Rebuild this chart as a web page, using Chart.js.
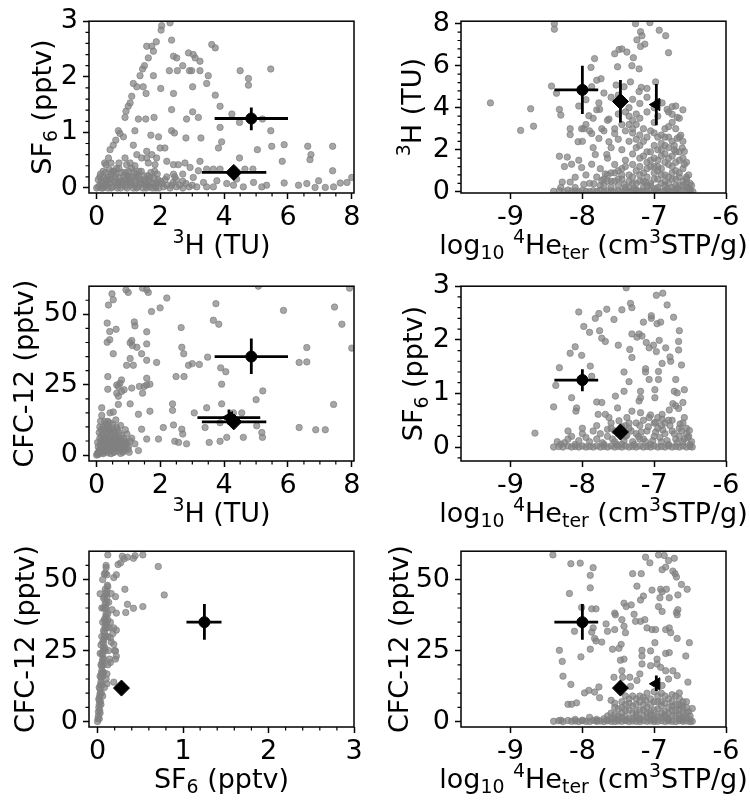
<!DOCTYPE html>
<html>
<head>
<meta charset="utf-8">
<script src="https://cdn.jsdelivr.net/npm/chart.js@4.4.1/dist/chart.umd.min.js"></script>
<style>
body{margin:0;background:#fff;width:750px;height:800px;overflow:hidden;}
canvas{position:absolute;}
</style>
</head>
<body>
<canvas id="p1" width="375" height="265" style="left:0px;top:0px"></canvas>
<canvas id="p2" width="375" height="265" style="left:375px;top:0px"></canvas>
<canvas id="p3" width="375" height="265" style="left:0px;top:265px"></canvas>
<canvas id="p4" width="375" height="265" style="left:375px;top:265px"></canvas>
<canvas id="p5" width="375" height="270" style="left:0px;top:530px"></canvas>
<canvas id="p6" width="375" height="270" style="left:375px;top:530px"></canvas>
<script>
// three dated samples (circle, diamond, left triangle), null = not measured / no error
const sampH3 = [4.85, 4.3, 4.15];
const sampH3Lo = [3.7, 3.3, 3.16];
const sampH3Hi = [6.0, 5.32, 5.13];
const sampHe = [-8.0, -7.47, -6.97];
const sampHeLo = [-8.39, null, null];
const sampHeHi = [-7.78, null, null];
const sampSF6 = [1.25, 0.28, null];
const sampSF6Lo = [1.04, null, null];
const sampSF6Hi = [1.45, null, null];
const sampCFC = [35, 11.8, 13.3];
const sampCFCLo = [28.8, null, 10.8];
const sampCFCHi = [41.4, null, 16.2];

// background data
const ptsH3SF6 = [[2.04,2.92],[2.02,2.84],[2.3,2.97],[1.87,2.63],[1.73,2.55],[1.57,2.55],[1.78,2.46],[1.62,2.34],[1.5,2.2],[1.44,2.14],[1.36,2.02],[1.78,2.02],[1.15,1.88],[1.26,1.82],[1.46,1.82],[1.55,1.7],[1.1,1.65],[1.05,1.53],[0.99,1.47],[0.92,1.38],[0.89,1.27],[1.31,1.24],[1.54,1.24],[1.8,1.27],[0.68,1.03],[0.73,0.98],[0.84,0.92],[1.2,1.03],[0.6,0.86],[0.52,0.77],[0.42,0.69],[0.37,0.54],[0.29,0.42],[1.7,0.95],[1.94,0.92],[1.99,0.72],[1.57,0.66],[1.41,0.54],[1.57,0.54],[1.73,0.6],[1.88,0.54],[2.14,0.72],[1.15,0.77],[1.26,0.6],[0.89,0.54],[0.94,0.42],[1.62,0.45],[1.83,0.42],[2.2,0.48],
[2.01,1.79],[2.28,2.11],[2.53,2.11],[2.41,2.37],[2.51,2.34],[2.35,2.66],[2.7,2.2],[2.88,2.43],[3.03,2.4],[3.09,2.34],[3.24,2.28],[2.91,2.11],[2.98,2.11],[3.24,2.11],[3.5,2.02],[3.45,1.88],[3.01,1.82],[2.35,1.41],[2.82,1.24],[3.19,1.27],[3.01,1.37],[2.35,1.03],[2.44,0.99],[2.8,0.9],[3.27,0.9],[2.41,1.7],
[3.61,2.58],[3.72,2.52],[3.72,1.67],[3.87,1.47],[3.87,1.09],[3.82,0.72],[3.92,0.83],[4.24,1.33],[4.48,1.18],[4.48,0.54],[4.5,2.11],[4.76,1.97],[4.76,1.85],[5.2,1.24],[5.46,1.03],[5.46,2.14],[5.04,0.69],[5.49,0.75],[5.88,0.78],[5.82,0.48],[5.88,0.09],[6.62,0.75],[6.72,0.6],[6.69,0.51],[7.4,0.75],[7.4,0.31],[6.96,0.13],[7.85,0.1],[8.0,0.19],[6.33,0.05],[6.59,0.08],[6.85,0.01],[7.17,0.01],[7.43,0.02],[7.64,0.09],
[3.24,0.48],[3.19,0.31],[3.45,0.34],[3.66,0.34],[3.87,0.34],[4.65,0.34],[4.9,0.34],[4.39,0.16],[4.92,0.1],[2.41,0.42],[2.56,0.42],[2.77,0.45],[2.93,0.37],[2.7,0.25],[2.41,0.25],[3.03,0.19],[3.35,0.1],[3.77,0.13],[4.08,0.08],[4.29,0.05],[4.6,0.02],[5.18,0.02],[5.33,0.05],[3.66,0.02],[3.45,0.02],[3.14,0.02],
[0.0,0.0],[0.05,0.02],[0.1,0.05],[0.15,0.0],[0.2,0.1],[0.25,0.03],[0.3,0.15],[0.35,0.0],[0.4,0.08],[0.45,0.2],[0.5,0.02],[0.55,0.12],[0.6,0.25],[0.65,0.05],[0.7,0.18],[0.75,0.0],[0.8,0.1],[0.85,0.22],[0.9,0.03],[0.95,0.15],[1.0,0.3],[1.05,0.05],[1.1,0.2],[1.15,0.0],[1.2,0.12],[1.25,0.25],[1.3,0.02],[1.35,0.1],[1.4,0.3],[1.45,0.0],[1.5,0.15],[1.55,0.05],[1.6,0.22],[1.65,0.02],[1.7,0.1],[1.75,0.0],[1.8,0.18],[1.85,0.03],[1.9,0.08],[1.95,0.0],[2.0,0.12],[2.1,0.02],[2.2,0.05],[2.3,0.0],[2.4,0.1],[2.5,0.02],[2.6,0.05],[2.7,0.0],[2.8,0.08],[2.9,0.02],[3.0,0.05],
[0.1,0.2],[0.2,0.3],[0.3,0.05],[0.5,0.3],[0.7,0.35],[0.9,0.28],[1.1,0.35],[0.4,0.33],[0.6,0.1],[1.3,0.2],[1.6,0.05],[1.9,0.25],[0.2,0.0],[0.45,0.0],[0.65,0.0],[0.95,0.0],[1.25,0.0],[1.55,0.0],[1.85,0.0],[0.15,0.12],[0.35,0.2],[0.55,0.3],[0.75,0.12],[1.0,0.1],[1.2,0.05],[1.4,0.08],[1.7,0.28],[2.2,0.2],[2.5,0.15],[2.7,0.12],
[0.05,0.15],[0.12,0.25],[0.22,0.18],[0.28,0.28],[0.32,0.1],[0.42,0.15],[0.48,0.25],[0.58,0.2],[0.62,0.35],[0.68,0.1],[0.78,0.28],[0.82,0.05],[0.88,0.15],[0.98,0.22],[1.02,0.18],[1.08,0.1],[1.18,0.28],[1.22,0.18],[1.32,0.3],[1.38,0.15],[1.48,0.22],[1.52,0.1],[1.62,0.15],[1.68,0.2],[1.78,0.08],[1.82,0.3],[1.92,0.15],[2.05,0.08],[2.15,0.15],[2.35,0.05],[2.45,0.2],[0.25,0.45],[0.45,0.45],[0.7,0.45],[1.05,0.45],[1.2,0.4]];

const ptsHeH3 = [[-9.28,4.23],[-8.86,2.92],[-8.72,3.95],[-8.68,3.12],[-8.39,8.0],[-8.39,7.74],[-8.43,5.03],[-8.36,4.69],[-8.32,3.92],[-8.3,3.65],[-8.32,1.69],[-8.21,1.65],[-8.17,3.0],[-8.17,2.72],[-8.15,1.31],[-8.1,0.69],[-8.28,0.46],[-8.17,0.46],[-8.06,2.38],[-8.05,4.08],[-8.01,3.0],[-7.95,4.38],[-7.91,3.62],[-7.87,5.0],[-7.88,5.92],[-7.83,6.34],[-7.8,5.31],[-7.77,4.23],[-7.74,5.38],[-7.76,3.92],[-7.73,3.0],[-7.63,3.46],[-7.77,2.54],[-7.87,2.77],[-7.98,3.0],[-7.82,1.77],[-7.87,1.31],[-8.01,1.15],[-7.68,0.85],[-7.73,0.54],[-7.98,0.35],[-7.84,0.38],[-7.66,1.77],[-7.63,2.38],[-7.55,2.77],[-7.55,6.57],[-7.49,6.77],[-7.45,6.8],[-7.38,6.65],[-7.51,5.95],[-7.53,5.08],[-7.42,5.0],[-7.33,5.23],[-7.29,6.38],[-7.21,5.85],[-7.31,6.0],[-7.21,4.77],[-7.18,4.97],[-7.26,8.0],[-7.19,7.62],[-7.17,7.43],[-7.24,7.23],[-7.19,6.92],[-7.13,7.03],[-7.06,8.05],[-6.93,7.69],[-6.84,7.43],[-6.8,6.62],[-7.1,4.92],[-6.98,5.23],[-6.89,4.23],[-6.82,3.92],[-6.7,4.08],[-6.75,3.69],[-6.68,3.54],[-6.63,2.69],[-6.68,2.54],[-6.61,2.08],[-6.72,2.0],[-6.58,1.92],
[-8.4,0.02],[-8.32,0.05],[-8.25,0],[-8.2,0.08],[-8.15,0.02],[-8.1,0.04],[-8.05,0],[-8.0,0.06],[-7.95,0.02],[-7.9,0],[-7.85,0.05],[-7.8,0.02],[-7.75,0.07],[-7.7,0],[-7.65,0.03],[-7.6,0.05],[-7.55,0],[-7.5,0.04],[-7.45,0.02],[-7.4,0.06],[-7.35,0],[-7.3,0.03],[-7.25,0.05],[-7.2,0.01],[-7.15,0.04],[-7.1,0],[-7.05,0.06],[-7.0,0.02],[-6.95,0.03],[-6.9,0],[-6.85,0.05],[-6.8,0.02],[-6.75,0.04],[-6.7,0],[-6.65,0.03],[-6.6,0.05],[-6.55,0.01],[-6.5,0.03],[-6.46,0],
[-7.5,0.3],[-7.45,0.6],[-7.4,0.2],[-7.35,0.8],[-7.3,0.4],[-7.25,1.0],[-7.2,0.5],[-7.15,0.9],[-7.1,0.3],[-7.05,1.2],[-7.0,0.6],[-6.95,1.5],[-6.9,0.4],[-6.85,1.8],[-6.8,0.7],[-6.75,1.2],[-6.7,0.3],[-6.65,0.9],[-6.6,0.5],[-6.55,0.2],[-6.5,0.1],
[-7.4,1.5],[-7.3,1.3],[-7.2,1.6],[-7.1,1.9],[-7.0,2.2],[-6.95,2.0],[-6.9,2.3],[-6.85,1.4],[-6.8,2.1],[-6.75,1.7],[-6.7,1.0],[-6.65,1.5],[-6.6,1.1],[-6.55,0.7],
[-7.45,2.0],[-7.35,2.4],[-7.3,2.8],[-7.25,3.2],[-7.2,3.5],[-7.15,3.0],[-7.1,2.6],[-7.05,2.9],[-7.0,3.3],[-6.95,3.6],[-6.9,2.7],[-7.25,3.7],[-7.3,3.4],[-7.35,3.6],[-7.2,2.2],[-7.15,1.7],[-7.05,1.5],[-6.95,1.0],[-6.9,0.8],[-6.85,0.5],[-6.8,1.3],[-6.75,0.6],[-6.7,1.9],[-6.65,2.6],[-6.6,2.4],[-6.55,1.4],
[-7.55,1.3],[-7.6,0.9],[-7.65,1.6],[-7.5,2.5],[-7.55,3.0],[-7.6,2.1],[-7.65,3.4],[-7.7,2.9],[-7.5,3.7],[-7.45,3.2],[-7.4,2.9],[-7.4,3.8],[-7.1,3.8],[-7.0,4.0],[-6.95,4.3],[-6.85,3.0],[-6.8,2.6],[-6.75,3.3],[-6.7,3.0],[-6.65,3.5],[-6.6,3.9],
[-7.8,0.7],[-7.75,1.1],[-7.9,0.4],[-7.85,2.1],[-7.7,0.3],[-7.65,0.5],[-7.6,0.2],[-7.55,0.5],[-7.5,1.0],[-7.45,1.1],[-7.35,0.2],[-7.25,0.1],[-7.15,0.2],[-7.05,0.4],[-6.95,0.2],[-6.85,0.3],[-6.75,0.2],[-6.65,0.3],[-6.55,0.4],
[-8.25,1.2],[-8.05,1.5],[-8.3,0.2],[-8.1,0.2],[-7.95,0.8],[-7.3,4.4],[-7.35,4.0],[-7.2,4.2],[-7.1,4.5],[-6.8,3.8],[-6.75,4.05],[-7.6,4.5],[-7.7,4.7],[-7.5,4.6],[-7.8,3.9],[-7.85,3.5],[-7.9,2.9],[-8.0,2.4],[-7.95,3.2],
[-7.35,0.5],[-7.3,0.7],[-7.25,0.4],[-7.2,0.8],[-7.15,0.5],[-7.1,0.7],[-7.05,0.3],[-7.0,0.9],[-6.95,0.6],[-6.9,1.1],[-6.85,0.8],[-6.8,0.4],[-6.75,0.9],[-6.7,0.6],[-6.65,0.7],[-6.6,0.3],[-6.55,0.6],[-6.5,0.4],[-7.2,1.2],[-7.1,1.4],[-7.0,1.6],[-6.95,1.2],[-6.9,1.7],[-6.85,2.2],[-6.8,1.6],[-6.75,2.4],[-6.7,1.4],[-6.65,1.9],[-6.6,1.6],[-7.0,1.2],[-7.05,1.9],[-7.1,1.1],[-7.3,1.8],[-7.25,2.1],[-7.4,1.2],[-7.45,0.8],[-7.5,0.6],[-7.55,0.9],[-7.6,0.5],[-7.65,0.8],[-7.7,0.6],[-7.75,0.3],[-6.9,2.0],[-6.95,2.6],[-7.0,2.8],[-7.15,2.4],[-7.2,2.7],[-7.25,2.5],[-7.3,3.0],[-7.35,3.2],[-6.85,2.6],[-6.8,3.1],[-6.72,2.2],[-6.58,1.3],[-6.52,0.8],[-6.48,0.3],[-7.42,0.35],[-7.28,0.15],[-7.12,0.45],[-6.98,0.15],[-6.82,0.15],[-6.68,0.15],[-6.52,0.15]];

const ptsH3CFC = [[0.92,58.7],[0.99,57.8],[1.44,59.3],[1.57,58.7],[1.62,57.8],[0.48,57.3],[0.52,55.2],[0.37,53.3],[2.2,55.8],[1.72,51],[1.99,52.3],[3.74,53.8],[3.66,47.9],[3.83,46.5],[0.33,46.9],[0.41,43.9],[0.61,44.7],[1.18,47.3],[1.2,45.9],[1.57,43.8],[2.65,45.3],[1.05,39.9],[1.1,40.7],[1.12,38.9],[0.33,40.1],[0.41,41],[1.26,38.3],[1.57,39.5],[1.88,32.9],[0.94,31.9],[1.05,34.3],[1.15,31.9],[1.41,36],[1.57,33.7],[0.52,36],[0.35,27.9],[0.35,23.4],[0.63,24.9],[0.68,24.4],[0.73,25.5],[0.78,26.7],[0.63,22],[0.68,20.9],[0.78,22.6],[0.86,23.2],[1.1,23.8],[1.34,24.4],[1.44,22],[1.57,27.3],[1.49,24.4],[1.57,24.9],[1.67,25.2],[1.05,18.2],[0.68,18],[0.42,15],[0.16,16.8],[0.52,15.3],[0.16,14.1],[1.31,14.5],[1.67,15.6],[1.41,9.2],[1.57,5.7],[1.31,1.6],[2.09,9.8],[1.94,5.7],
[2.49,27.9],[2.74,27.9],[2.67,38.3],[2.73,36],[3.0,32.5],[3.22,32.2],[2.88,31.9],[2.38,18.2],[2.38,15.9],[3.06,15],[3.45,16.8],[3.48,34.8],[2.41,10.7],[2.67,9.2],[2.7,7.5],[2.45,4.9],[2.57,4.5],[2.82,4],[3.53,4.5],[3.87,4.9],[3.92,18.2],[3.92,25.2],[3.89,31],[4.05,29.6],[3.4,9.8],[3.87,11.5],[4.08,6.3],[4.29,15],[4.6,6.3],[4.55,15],[5.02,10.4],[5.0,19.7],[5.21,22.8],[5.18,8],[5.2,6.3],[5.07,60],[5.86,51.4],[6.35,32.9],[6.59,33.1],[6.59,38.2],[6.35,9.8],[6.87,9],[7.17,9],[7.43,18],[7.46,52.6],[7.69,46.5],[7.93,59.3],[8.0,38],
[0.0,0.0],[0.02,0.5],[0.05,1],[0.05,0.2],[0.08,1.5],[0.1,2],[0.1,0.8],[0.12,3],[0.15,1.2],[0.15,4],[0.18,2.5],[0.2,5],[0.2,0.5],[0.22,3.5],[0.25,6],[0.25,1.8],[0.28,4.5],[0.3,7],[0.3,2.5],[0.32,8],[0.35,3],[0.35,5.5],[0.38,9],[0.4,4],[0.4,1.5],[0.42,6.5],[0.45,3.5],[0.45,8],[0.48,2],[0.5,5],[0.5,9.5],[0.52,3],[0.55,6],[0.58,4],[0.6,2.5],[0.6,7],[0.62,5],[0.65,3.5],[0.68,1.5],[0.7,4.5],[0.72,6],[0.75,3],[0.78,2],[0.8,5],[0.85,3.5],[0.9,2.5],[0.95,4],[1.0,3],[1.05,5],[0.2,10],[0.25,9],[0.15,7],[0.1,6],[0.35,12],[0.3,11],[0.5,11],[0.65,9],[0.55,1],[0.45,0.5],[0.35,0.8],[0.75,0.6],[0.85,1.5],[0.05,3],[0.03,4.5],[0.08,8],[0.1,10],[0.12,12],
[0.15,9],[0.2,7.5],[0.28,6],[0.33,10],[0.4,9],[0.47,7],[0.55,8.5],[0.62,10],[0.7,8],[0.78,7],[0.85,6],[0.9,5],[0.95,7.5],[0.25,12],[0.4,11.5],[0.6,12.5],[0.75,10.5],[0.9,9],[1.1,6],[1.2,4],[0.12,5],[0.18,3],[0.22,1],[0.3,1.5],[0.38,2.5],[0.42,5],[0.48,4.5],[0.52,1],[0.58,6.5],[0.65,5.5],[0.7,2.5],[0.8,3.5],[0.82,1],[0.9,4],[0.98,2],[1.02,1]];

const ptsHeSF6 = [[-8.66,0.26],[-8.4,0.75],[-8.37,1.15],[-8.32,1.48],[-8.15,0.92],[-8.09,0.67],[-8.17,1.75],[-8.1,1.87],[-8.01,1.71],[-8.05,2.52],[-7.98,2.25],[-7.9,2.14],[-7.89,1.51],[-7.87,1.32],[-7.8,0.84],[-7.73,0.83],[-7.82,2.4],[-7.77,2.49],[-7.76,2.17],[-7.73,2.03],[-7.68,1.97],[-7.66,2.57],[-7.56,2.38],[-7.5,1.9],[-7.45,2.56],[-7.39,2.97],[-7.33,2.68],[-7.31,2.6],[-7.42,1.4],[-7.54,0.95],[-7.51,0.73],[-7.42,1.04],[-7.35,1.22],[-7.31,1.67],[-7.34,1.82],[-7.31,2.11],[-7.21,2.11],[-7.17,2.07],[-7.24,2.05],[-7.12,1.4],[-7.12,1.46],[-7.07,1.26],[-7.19,1.04],[-7.19,0.92],[-7.15,2.33],[-7.04,2.45],[-7.04,2.4],[-7.11,1.95],[-7.07,1.85],[-7.01,1.9],[-6.97,1.78],[-6.93,1.99],[-6.96,2.3],[-6.91,2.33],[-6.97,2.83],[-6.88,2.87],[-6.82,2.65],[-6.89,1.56],[-6.94,1.41],[-6.94,1.26],[-6.99,1.07],[-6.99,0.92],[-6.84,1.85],[-6.78,1.68],[-6.77,1.6],[-6.73,2.42],[-6.65,2.17],[-6.66,1.97],[-6.66,1.81],[-6.62,1.53],[-6.7,1.26],[-6.68,1.01],[-6.58,1.07],[-6.6,0.83],[-6.66,0.72],[-6.7,0.77],[-6.74,0.81],[-6.72,1.04],[-6.79,0.69],[-6.89,0.61],[-6.64,0.43],[-6.58,0.55],[-6.53,0.18],[-6.51,0.31],
[-7.78,0.61],[-7.68,0.61],[-7.63,0.55],[-7.49,0.49],[-7.38,0.55],[-7.31,0.67],[-7.21,0.86],[-7.19,0.64],[-7.07,0.55],[-6.98,0.46],[-6.89,0.52],[-8.08,0.73],
[-8.4,0.0],[-8.33,0.01],[-8.27,0.0],[-8.2,0.02],[-8.15,0.0],[-8.1,0.01],[-8.05,0.0],[-8.0,0.02],[-7.95,0.0],[-7.9,0.01],[-7.85,0.0],[-7.8,0.02],[-7.75,0.0],[-7.7,0.01],[-7.65,0.0],[-7.6,0.02],[-7.55,0.0],[-7.5,0.01],[-7.45,0.0],[-7.4,0.02],[-7.35,0.0],[-7.3,0.01],[-7.25,0.0],[-7.2,0.02],[-7.15,0.0],[-7.1,0.01],[-7.05,0.0],[-7.0,0.02],[-6.95,0.0],[-6.9,0.01],[-6.85,0.0],[-6.8,0.02],[-6.75,0.0],[-6.7,0.01],[-6.65,0.0],[-6.6,0.02],[-6.55,0.0],[-6.5,0.01],[-6.47,0.0],
[-8.35,0.1],[-8.2,0.15],[-8.1,0.05],[-8.0,0.25],[-7.9,0.1],[-7.85,0.3],[-7.8,0.15],[-7.7,0.05],[-7.65,0.2],[-7.6,0.35],[-7.55,0.1],[-7.5,0.25],[-7.45,0.05],[-7.4,0.2],[-7.35,0.35],[-7.3,0.1],[-7.25,0.25],[-7.2,0.4],[-7.15,0.15],[-7.1,0.3],[-7.05,0.05],[-7.0,0.2],[-6.95,0.35],[-6.9,0.1],[-6.85,0.25],[-6.8,0.05],[-6.75,0.3],[-6.7,0.15],[-6.65,0.2],[-6.6,0.1],[-6.55,0.25],[-6.5,0.05],[-7.2,0.15],[-7.0,0.45],[-6.9,0.4],[-6.8,0.5],[-7.4,0.4],[-7.6,0.45],[-7.8,0.4],[-8.0,0.35],[-8.2,0.3],[-8.3,0.05],
[-8.25,0.08],[-8.15,0.2],[-8.05,0.12],[-7.95,0.18],[-7.75,0.25],[-7.72,0.08],[-7.58,0.15],[-7.52,0.05],[-7.48,0.3],[-7.42,0.12],[-7.38,0.22],[-7.32,0.3],[-7.28,0.05],[-7.22,0.2],[-7.18,0.28],[-7.12,0.1],[-7.08,0.38],[-7.02,0.12],[-6.98,0.28],[-6.92,0.18],[-6.88,0.32],[-6.82,0.12],[-6.78,0.4],[-6.72,0.25],[-6.68,0.08],[-6.62,0.3],[-6.58,0.15],[-6.52,0.2],[-6.48,0.1],[-7.25,0.45],[-7.15,0.5],[-7.05,0.6],[-6.95,0.55],[-6.85,0.45],[-6.75,0.5],[-6.65,0.35],[-7.35,0.45],[-7.45,0.38],[-7.55,0.3],[-7.65,0.33],[-6.6,0.45],[-6.55,0.35]];

const ptsSF6CFC = [[0.12,58.7],[0.27,55.9],[0.31,57.3],[0.29,58.2],[0.35,57.9],[0.42,57.5],[0.44,58.4],[0.53,58.7],[0.71,54.6],[0.24,55.3],[0.1,54.2],[0.09,52.3],[0.11,51.7],[0.22,51.7],[0.19,50.7],[0.32,46.6],[0.12,47.5],[0.09,46.6],[0.16,45.1],[0.21,44],[0.78,44.6],[0.35,41.3],[0.42,39.9],[0.53,40.5],[0.33,38.4],[0.22,38.2],[0.17,39.4],[0.09,41.7],[0.07,43.4],[0.22,32.2],[0.19,33],[0.12,35.9],[0.15,29.5],[0.19,27.2],[0.21,24.9],[0.21,22],[0.15,20.8],[0.11,13.3],[0.19,13.9],[0.11,16.8],[0.07,17.4],
[0,0],[0.005,1],[0.01,2],[0.01,3.5],[0.015,5],[0.02,6],[0.02,7.5],[0.025,9],[0.03,10],[0.03,11.5],[0.035,13],[0.04,14],[0.04,15.5],[0.045,17],[0.05,18],[0.05,19.5],[0.055,21],[0.06,22],[0.06,23.5],[0.065,25],[0.07,26],[0.07,27.5],[0.075,29],[0.08,30],[0.08,31.5],[0.085,33],[0.09,34],[0.09,35.5],[0.095,37],[0.1,38],[0.1,40],[0.105,42],[0.11,44],[0.11,46],[0.115,48],[0.02,12],[0.03,16],[0.04,20],[0.05,24],[0.06,28],[0.07,32],[0.08,36],[0.09,40],[0.1,45],[0.12,30],[0.13,25],[0.14,22],[0.15,35],[0.16,28],[0.12,20],[0.1,15],[0.08,12],[0.06,9],[0.04,6],[0.03,3],[0.02,1],[0.05,30],[0.04,27],[0.03,24],[0.06,35],[0.07,40],[0.08,44],[0.12,38],[0.14,33],[0.18,31],[0.2,25],[0.22,23],[0.06,16],[0.07,20],[0.09,25],[0.11,33],[0.13,42],[0.015,8],[0.025,4],[0.035,7],[0.045,10],[0.055,13],[0.065,17],[0.075,22],[0.085,26],[0.095,30],[0.105,35],[0.06,50],[0.08,52],[0.1,55],[0.03,45],[0.05,40]];

const ptsHeCFC = [[-8.41,58.7],[-8.16,55.6],[-8.03,55.8],[-7.85,54.2],[-7.89,51.5],[-7.89,47.1],[-8.18,45.1],[-8.01,40.2],[-7.87,39.7],[-7.81,39.7],[-7.85,33],[-7.87,31.5],[-7.83,29.3],[-7.81,28.4],[-7.73,28],[-7.89,25.5],[-8.02,22.8],[-8.11,31.8],[-8.32,25.1],[-8.28,21.2],[-8.27,16],[-8.16,13.1],[-8.2,6.1],[-8.15,6.1],[-8.08,6.6],[-7.97,10.1],[-7.91,11],[-7.83,10.4],[-7.77,12.2],[-7.76,8.4],[-7.67,34.4],[-7.55,38.2],[-7.54,37.6],[-7.55,32.4],[-7.45,35.9],[-7.42,33.6],[-7.4,31.3],[-7.46,27.2],[-7.42,22],[-7.47,21.6],[-7.58,25.5],[-7.49,25.8],[-7.39,40.5],[-7.42,41.7],[-7.32,41.1],[-7.28,37.8],[-7.26,35.3],[-7.19,35.3],[-7.13,35.9],[-7.1,33],[-7.19,42.8],[-7.24,47.7],[-7.15,44.2],[-7.3,52.1],[-7.18,52.1],[-7.12,57.9],[-7.06,55.9],[-6.94,58.7],[-6.86,58.5],[-6.8,56.7],[-6.72,57.5],[-6.84,54.4],[-6.89,53.5],[-6.74,53],[-6.71,52.1],[-6.69,50.9],[-6.62,48.3],[-6.54,46.6],[-6.83,46.6],[-6.91,46.6],[-7.03,46.3],[-6.89,45.7],[-6.79,43.6],[-6.67,44.6],[-6.92,43.6],[-6.94,40.5],[-6.89,38.8],[-6.67,39.4],[-6.69,38.4],[-6.68,37.6],[-6.79,33],[-6.84,32.4],[-6.98,32.4],[-7.03,32.4],[-6.77,31.3],[-6.99,27.8],[-6.84,24],[-6.79,24.3],[-6.68,29.3],[-6.51,27.8],[-6.56,23.1],[-6.53,13.9],[-7.17,25.1],[-7.05,24.9],[-6.96,22],[-7.05,19.7],[-6.96,20.3],[-6.91,19.1],[-6.84,17.9],[-6.74,17.9],[-6.68,16.2],[-6.8,15],[-6.89,12.7],[-6.65,10.1],[-6.47,4.6],[-7.17,23.1],[-7.17,20.3],[-7.2,16.8],[-7.34,15.6],[-7.45,17.9],[-7.44,15.6],[-7.33,12.4],[-7.56,15.6],[-7.24,14.5],[-7.65,31.8],
[-8.4,0.1],[-8.33,0.3],[-8.27,0.0],[-8.2,0.4],[-8.15,0.1],[-8.1,0.2],[-8.05,0.0],[-8.0,0.3],[-7.95,0.1],[-7.9,0.0],[-7.85,0.4],[-7.8,0.1],[-7.75,0.2],[-7.7,0.0],[-7.65,0.3],[-7.6,0.1],[-7.55,0.0],[-7.5,0.2],[-7.45,0.1],[-7.4,0.3],[-7.35,0.0],[-7.3,0.2],[-7.25,0.1],[-7.2,0.0],[-7.15,0.3],[-7.1,0.1],[-7.05,0.2],[-7.0,0.0],[-6.95,0.1],[-6.9,0.3],[-6.85,0.0],[-6.8,0.2],[-6.75,0.1],[-6.7,0.0],[-6.65,0.3],[-6.6,0.1],[-6.55,0.2],[-6.5,0.0],[-6.47,0.1],
[-7.6,3],[-7.55,5],[-7.5,2],[-7.45,7],[-7.4,4],[-7.35,8],[-7.3,3],[-7.25,6],[-7.2,9],[-7.15,2],[-7.1,5],[-7.05,8],[-7.0,4],[-6.95,7],[-6.9,3],[-6.85,9],[-6.8,5],[-6.75,2],[-6.7,6],[-6.65,4],[-6.6,3],[-6.55,5],[-6.5,2],[-7.55,1],[-7.45,1.5],[-7.35,1],[-7.25,1.5],[-7.15,6],[-7.05,1],[-6.95,2],[-6.85,1.5],[-6.75,4],[-6.65,1],[-6.55,1.2],[-7.4,6],[-7.3,9],[-7.2,4],[-7.1,10],[-7.0,7],[-6.9,10],[-6.8,8],[-6.7,9],[-6.6,7],[-7.65,2],[-7.7,1],[-7.8,0.8],[-7.9,1.5],[-8.0,0.5],[-8.1,0.8],[-8.3,0.5],[-7.5,4.5],[-7.0,2],[-6.9,5.5],[-7.2,7],[-6.75,7],[-6.62,5.5],[-7.3,5.5],[-7.1,3],
[-7.65,0.5],[-7.6,1.2],[-7.5,0.8],[-7.45,3],[-7.4,1.8],[-7.35,4],[-7.3,1],[-7.25,3.5],[-7.2,1.2],[-7.15,4],[-7.1,1.5],[-7.05,3.5],[-7.0,1],[-6.95,4.5],[-6.9,1.5],[-6.85,3.5],[-6.8,1],[-6.75,5.5],[-6.7,2],[-6.65,6],[-6.6,1.5],[-6.55,3],[-6.5,0.8],[-7.35,6.5],[-7.25,8],[-7.15,8.5],[-7.05,6],[-6.95,9],[-6.85,6.5],[-6.75,9.5],[-6.65,8],[-6.55,7],[-7.45,5],[-7.55,6.5],[-7.6,7.5],[-7.4,9],[-6.9,7],[-7.0,10.5],[-7.12,7.5],[-6.8,3],[-6.7,4],[-6.6,5],[-6.52,3.5],[-7.4,0.6],[-7.2,0.8],[-7.0,0.6],[-6.8,0.6],[-6.6,0.6],[-7.8,0.3],[-7.55,2.5],[-7.25,2.3],[-7.05,2.5],[-6.85,2.3],[-6.65,2.5]];

// tick values
const ticksH3 = [0, 2, 4, 6, 8];
const minorH3 = [0.5, 1, 1.5, 2.5, 3, 3.5, 4.5, 5, 5.5, 6.5, 7, 7.5];
const ticksHe = [-9, -8, -7, -6];
const ticksSF6 = [0, 1, 2, 3];
const minorSF6 = [0.2, 0.4, 0.6, 0.8, 1.2, 1.4, 1.6, 1.8, 2.2, 2.4, 2.6, 2.8];
const minorSF6b = [-0.2, 0.2, 0.4, 0.6, 0.8, 1.2, 1.4, 1.6, 1.8, 2.2, 2.4, 2.6, 2.8];
const ticksH3y = [0, 2, 4, 6, 8];
const minorH3y = [0.4, 0.8, 1.2, 1.6, 2.4, 2.8, 3.2, 3.6, 4.4, 4.8, 5.2, 5.6, 6.4, 6.8, 7.2, 7.6];
const ticksCFC = [0, 25, 50];
const minorCFC = [5, 10, 15, 20, 30, 35, 40, 45, 55];

// axis titles: [text, n|sub|sup]
const labSF6 = [['SF', 'n'], ['6', 'sub'], [' (pptv)', 'n']];
const labH3 = [['3', 'sup'], ['H (TU)', 'n']];
const labCFC = [['CFC-12 (pptv)', 'n']];
const labHe = [['log', 'n'], ['10', 'sub'], [' ', 'n'], ['4', 'sup'], ['He', 'n'], ['ter', 'sub'], [' (cm', 'n'], ['3', 'sup'], ['STP/g)', 'n']];

const FONT = "'DejaVu Sans', sans-serif";
const FS = 27;
const grey = 'rgba(128,128,128,0.7)';
const sampStyle = ['circle', 'rectRot', 'triangle'];
const sampRadius = [5.5, 8, 7];
const sampRot = [0, 0, -90];

function drawRich(ctx, parts, fs, x, y) {
    var w = 0;
    parts.forEach(function (p) {
        ctx.font = (p[1] === 'n' ? fs : fs * 0.7) + 'px ' + FONT;
        w += ctx.measureText(p[0]).width;
    });
    var cx = x - w / 2;
    ctx.textAlign = 'left';
    ctx.textBaseline = 'alphabetic';
    parts.forEach(function (p) {
        var dy = p[1] === 'sub' ? fs * 0.2 : (p[1] === 'sup' ? -fs * 0.42 : 0);
        ctx.font = (p[1] === 'n' ? fs : fs * 0.7) + 'px ' + FONT;
        ctx.fillText(p[0], cx, y + dy);
        cx += ctx.measureText(p[0]).width;
    });
}

function makePanel(id, o) {
    var cv = document.getElementById(id);
    var W = cv.width, H = cv.height;
    var datasets = [{
        data: o.pts.map(function (p) { return {x: p[0], y: p[1]}; }),
        backgroundColor: grey,
        borderColor: grey,
        borderWidth: 1,
        pointRadius: 3.2,
        order: 2,
        clip: 0
    }];
    for (var i = 0; i < 3; i++) {
        if (o.sx[i] == null || o.sy[i] == null) continue;
        datasets.push({
            data: [{x: o.sx[i], y: o.sy[i]}],
            pointStyle: sampStyle[i],
            pointRadius: sampRadius[i],
            rotation: sampRot[i],
            backgroundColor: '#000',
            borderColor: '#000',
            borderWidth: 1,
            order: 1,
            clip: 0
        });
    }
    var gridOpt = {drawOnChartArea: false, drawTicks: true, tickLength: 6, tickWidth: 1.5, tickColor: '#000'};
    var tickFont = {family: FONT, size: FS};

    var deco = {
        id: 'deco',
        afterDatasetDraw: function (chart, args) {
            if (args.index !== 0) return;
            var ctx = chart.ctx, a = chart.chartArea;
            var xs = chart.scales.x, ys = chart.scales.y;
            ctx.save();
            ctx.beginPath();
            ctx.rect(a.left, a.top, a.right - a.left, a.bottom - a.top);
            ctx.clip();
            ctx.strokeStyle = '#000';
            ctx.lineWidth = 2.8;
            for (var i = 0; i < 3; i++) {
                if (o.sx[i] == null || o.sy[i] == null) continue;
                var px = xs.getPixelForValue(o.sx[i]), py = ys.getPixelForValue(o.sy[i]);
                if (o.sxLo[i] != null) {
                    ctx.beginPath();
                    ctx.moveTo(xs.getPixelForValue(o.sxLo[i]), py);
                    ctx.lineTo(xs.getPixelForValue(o.sxHi[i]), py);
                    ctx.stroke();
                }
                if (o.syLo[i] != null) {
                    ctx.beginPath();
                    ctx.moveTo(px, ys.getPixelForValue(o.syLo[i]));
                    ctx.lineTo(px, ys.getPixelForValue(o.syHi[i]));
                    ctx.stroke();
                }
            }
            ctx.restore();
        },
        afterDraw: function (chart) {
            var ctx = chart.ctx, a = chart.chartArea;
            var xs = chart.scales.x, ys = chart.scales.y;
            ctx.save();
            ctx.strokeStyle = '#000';
            ctx.lineWidth = 1.5;
            ctx.strokeRect(a.left, a.top, a.right - a.left, a.bottom - a.top);
            ctx.lineWidth = 1.2;
            ctx.beginPath();
            (o.xMinor || []).forEach(function (v) {
                var px = xs.getPixelForValue(v);
                ctx.moveTo(px, a.bottom);
                ctx.lineTo(px, a.bottom + 3.5);
            });
            (o.yMinor || []).forEach(function (v) {
                var py = ys.getPixelForValue(v);
                ctx.moveTo(a.left - 3.5, py);
                ctx.lineTo(a.left, py);
            });
            ctx.stroke();
            ctx.fillStyle = '#000';
            // x title
            drawRich(ctx, o.xLab, FS, (a.left + a.right) / 2, a.bottom + 61);
            // y title, rotated
            ctx.translate(o.yLabX, (a.top + a.bottom) / 2);
            ctx.rotate(-Math.PI / 2);
            drawRich(ctx, o.yLab, FS, 0, FS * 0.3);
            ctx.restore();
        }
    };

    new Chart(cv, {
        type: 'scatter',
        data: {datasets: datasets},
        options: {
            responsive: false,
            animation: false,
            events: [],
            layout: {padding: {left: 0, top: o.area[2], right: W - o.area[1], bottom: 0}},
            plugins: {legend: {display: false}, tooltip: {enabled: false}},
            scales: {
                x: {
                    type: 'linear', min: o.xr[0], max: o.xr[1],
                    grid: gridOpt, border: {display: false},
                    ticks: {font: tickFont, color: '#000', padding: 3, maxRotation: 0, autoSkip: false,
                        callback: function (v) { return String(v); }},
                    afterBuildTicks: function (s) { s.ticks = o.xTicks.map(function (v) { return {value: v}; }); },
                    afterFit: function (s) { s.height = H - o.area[3]; }
                },
                y: {
                    type: 'linear', min: o.yr[0], max: o.yr[1],
                    grid: gridOpt, border: {display: false},
                    ticks: {font: tickFont, color: '#000', padding: 5, autoSkip: false,
                        callback: function (v) { return String(v); }},
                    afterBuildTicks: function (s) { s.ticks = o.yTicks.map(function (v) { return {value: v}; }); },
                    afterFit: function (s) { s.width = o.area[0]; }
                }
            }
        },
        plugins: [deco]
    });
}

makePanel('p1', {
    pts: ptsH3SF6, sx: sampH3, sy: sampSF6, sxLo: sampH3Lo, sxHi: sampH3Hi, syLo: sampSF6Lo, syHi: sampSF6Hi,
    xr: [-0.24, 8.07], yr: [-0.09, 3.0], xTicks: ticksH3, yTicks: ticksSF6, xMinor: minorH3, yMinor: minorSF6,
    xLab: labH3, yLab: labSF6, yLabX: 43, area: [89, 354, 16, 193]
});
makePanel('p2', {
    pts: ptsHeH3, sx: sampHe, sy: sampH3, sxLo: sampHeLo, sxHi: sampHeHi, syLo: sampH3Lo, syHi: sampH3Hi,
    xr: [-9.69, -6.0], yr: [-0.06, 8.12], xTicks: ticksHe, yTicks: ticksH3y, xMinor: [], yMinor: minorH3y,
    xLab: labHe, yLab: labH3, yLabX: 38, area: [86, 351, 16, 193]
});
makePanel('p3', {
    pts: ptsH3CFC, sx: sampH3, sy: sampCFC, sxLo: sampH3Lo, sxHi: sampH3Hi, syLo: sampCFCLo, syHi: sampCFCHi,
    xr: [-0.24, 8.07], yr: [-2.1, 60], xTicks: ticksH3, yTicks: ticksCFC, xMinor: minorH3, yMinor: minorCFC,
    xLab: labH3, yLab: labCFC, yLabX: 25, area: [89, 354, 18, 196]
});
makePanel('p4', {
    pts: ptsHeSF6, sx: sampHe, sy: sampSF6, sxLo: sampHeLo, sxHi: sampHeHi, syLo: sampSF6Lo, syHi: sampSF6Hi,
    xr: [-9.69, -6.0], yr: [-0.26, 3.0], xTicks: ticksHe, yTicks: ticksSF6, xMinor: [], yMinor: minorSF6b,
    xLab: labHe, yLab: labSF6, yLabX: 39, area: [86, 351, 18, 196]
});
makePanel('p5', {
    pts: ptsSF6CFC, sx: sampSF6, sy: sampCFC, sxLo: sampSF6Lo, sxHi: sampSF6Hi, syLo: sampCFCLo, syHi: sampCFCHi,
    xr: [-0.1, 3.0], yr: [-1.9, 60], xTicks: ticksSF6, yTicks: ticksCFC, xMinor: minorSF6, yMinor: minorCFC,
    xLab: labSF6, yLab: labCFC, yLabX: 26, area: [89, 354, 20, 197]
});
makePanel('p6', {
    pts: ptsHeCFC, sx: sampHe, sy: sampCFC, sxLo: sampHeLo, sxHi: sampHeHi, syLo: sampCFCLo, syHi: sampCFCHi,
    xr: [-9.69, -6.0], yr: [-1.9, 60], xTicks: ticksHe, yTicks: ticksCFC, xMinor: [], yMinor: minorCFC,
    xLab: labHe, yLab: labCFC, yLabX: 25, area: [86, 351, 20, 197]
});
</script>
</body>
</html>
